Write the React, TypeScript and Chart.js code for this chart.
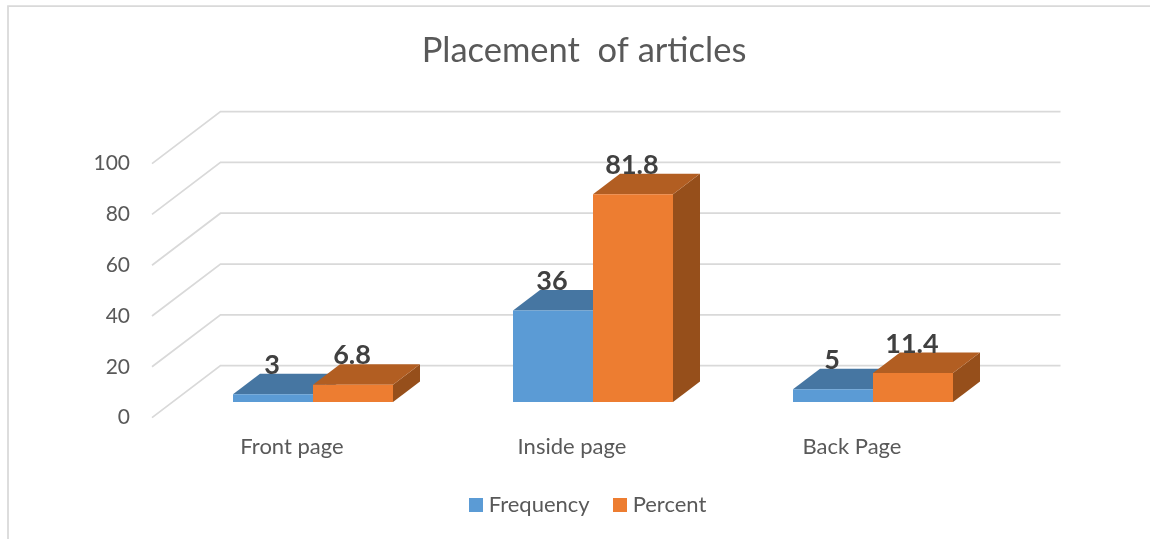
import React, { useEffect, useRef } from "react";
import { Chart, registerables } from "chart.js";

Chart.register(...registerables);

const categories = ["Front page", "Inside page", "Back Page"];
const frequency = [3, 36, 5];
const percent = [6.8, 81.8, 11.4];
const frequencyLabels = ["3", "36", "5"];
const percentLabels = ["6.8", "81.8", "11.4"];
const yTicks = { min: 0, max: 100, stepSize: 20 };

const FONT = "Lato";
const TEXT = "#595959";
const GRID = "#D9D9D9";
const FACES = [
  { front: "#5B9BD5", top: "#4676A2", side: "#3F6A91" },
  { front: "#ED7D31", top: "#B25E22", side: "#964F1B" },
];
const SHIFT = { x: 21, y: -15.7 };
const WALL = { x: 68.5, y: -52 };
const BAR_DEPTH = { x: 27, y: -20.5 };
const LEGEND_SHIFT = { x: 6, y: 0.6 };

function swatch(color: string) {
  const c = document.createElement("canvas");
  c.width = 14;
  c.height = 14;
  const g = c.getContext("2d")!;
  g.fillStyle = color;
  g.fillRect(0, 0, 14, 14);
  return c;
}

const box3d = {
  id: "box3d",
  afterLayout(chart: any) {
    const lg = chart.legend;
    lg.left += LEGEND_SHIFT.x;
    lg.right += LEGEND_SHIFT.x;
    lg.top += LEGEND_SHIFT.y;
    lg.bottom += LEGEND_SHIFT.y;
  },
  beforeDraw(chart: any) {
    const { ctx, width, height } = chart;
    ctx.save();
    ctx.strokeStyle = GRID;
    ctx.lineWidth = 1.75;
    ctx.beginPath();
    ctx.moveTo(8, height);
    ctx.lineTo(8, 6);
    ctx.lineTo(width, 6);
    ctx.stroke();
    ctx.restore();
  },
  beforeDatasetsDraw(chart: any) {
    const { ctx, scales } = chart;
    const xs = scales.x;
    const ys = scales.y;
    ctx.save();
    ctx.strokeStyle = GRID;
    ctx.lineWidth = 1.75;
    for (const t of ys.ticks) {
      const py = ys.getPixelForValue(t.value);
      ctx.beginPath();
      ctx.moveTo(xs.left, py);
      ctx.lineTo(xs.left + WALL.x, py + WALL.y);
      ctx.lineTo(xs.right + WALL.x, py + WALL.y);
      ctx.stroke();
    }
    ctx.restore();

    ctx.save();
    ctx.translate(SHIFT.x, SHIFT.y);
    chart.data.datasets.forEach((_: any, di: number) => {
      const f = FACES[di];
      for (const el of chart.getDatasetMeta(di).data as any[]) {
        const l = el.x - el.width / 2;
        const r = el.x + el.width / 2;
        const t = el.y;
        const b = el.base;
        ctx.fillStyle = f.side;
        ctx.beginPath();
        ctx.moveTo(r, t);
        ctx.lineTo(r + BAR_DEPTH.x, t + BAR_DEPTH.y);
        ctx.lineTo(r + BAR_DEPTH.x, b + BAR_DEPTH.y);
        ctx.lineTo(r, b);
        ctx.closePath();
        ctx.fill();
        ctx.fillStyle = f.top;
        ctx.beginPath();
        ctx.moveTo(l, t);
        ctx.lineTo(l + BAR_DEPTH.x, t + BAR_DEPTH.y);
        ctx.lineTo(r + BAR_DEPTH.x, t + BAR_DEPTH.y);
        ctx.lineTo(r, t);
        ctx.closePath();
        ctx.fill();
      }
    });
  },
  afterDatasetsDraw(chart: any) {
    const { ctx } = chart;
    const texts = [frequencyLabels, percentLabels];
    ctx.font = `bold 27px ${FONT}`;
    ctx.fillStyle = "#404040";
    ctx.textAlign = "center";
    ctx.textBaseline = "middle";
    chart.data.datasets.forEach((_: any, di: number) => {
      (chart.getDatasetMeta(di).data as any[]).forEach((el, i) => {
        ctx.fillText(texts[di][i], el.x - 1, el.y + BAR_DEPTH.y - 8.5);
      });
    });
    ctx.restore();
  },
};

export default function App() {
  const ref = useRef<HTMLCanvasElement>(null);
  useEffect(() => {
    const chart = new Chart(ref.current!, {
      type: "bar",
      data: {
        labels: categories,
        datasets: [
          { label: "Frequency", data: frequency, backgroundColor: FACES[0].front, clip: false } as any,
          { label: "Percent", data: percent, backgroundColor: FACES[1].front, clip: false } as any,
        ],
      },
      plugins: [box3d],
      options: {
        responsive: false,
        animation: false,
        layout: { padding: { left: 18, right: 0, top: 0, bottom: 14 } },
        datasets: { bar: { categoryPercentage: 160 / 280, barPercentage: 1, borderWidth: 0 } },
        plugins: {
          tooltip: { enabled: false },
          title: {
            display: true,
            text: "Placement  of articles",
            color: TEXT,
            font: { family: FONT, size: 34.5, weight: "normal", lineHeight: 1.2 },
            padding: { top: 30, bottom: 92.2 },
          },
          legend: {
            position: "bottom",
            labels: {
              color: TEXT,
              usePointStyle: true,
              pointStyleWidth: 4,
              boxHeight: 14,
              padding: 28,
              font: { family: FONT, size: 22 },
              generateLabels(c: any) {
                const items = Chart.defaults.plugins.legend.labels.generateLabels(c);
                items.forEach((it: any, i: number) => {
                  it.pointStyle = swatch(FACES[i].front);
                });
                return items;
              },
            },
          },
        },
        scales: {
          x: {
            grid: { display: false, drawTicks: false },
            border: { display: false },
            ticks: {
              color: TEXT,
              font: { family: FONT, size: 22 },
              padding: 16,
              maxRotation: 0,
              autoSkip: false,
            },
            afterFit(s: any) {
              s.height = 47.4;
            },
          },
          y: {
            min: yTicks.min,
            max: yTicks.max,
            grid: { display: false, drawTicks: false },
            border: { display: false },
            ticks: {
              stepSize: yTicks.stepSize,
              color: TEXT,
              font: { family: FONT, size: 21 },
              padding: 22,
            },
            afterFit(s: any) {
              s.width = 134;
            },
          },
          rightGap: {
            position: "right",
            min: yTicks.min,
            max: yTicks.max,
            grid: { display: false, drawTicks: false },
            border: { display: false },
            ticks: { display: false },
            afterFit(s: any) {
              s.width = 158;
            },
          },
        },
      } as any,
    });
    return () => chart.destroy();
  }, []);
  return (
    <div style={{ position: "absolute", left: 0, top: 0, width: 1150, height: 539, overflow: "hidden", background: "#fff" }}>
      <canvas ref={ref} width={1150} height={539} style={{ display: "block" }} />
    </div>
  );
}
